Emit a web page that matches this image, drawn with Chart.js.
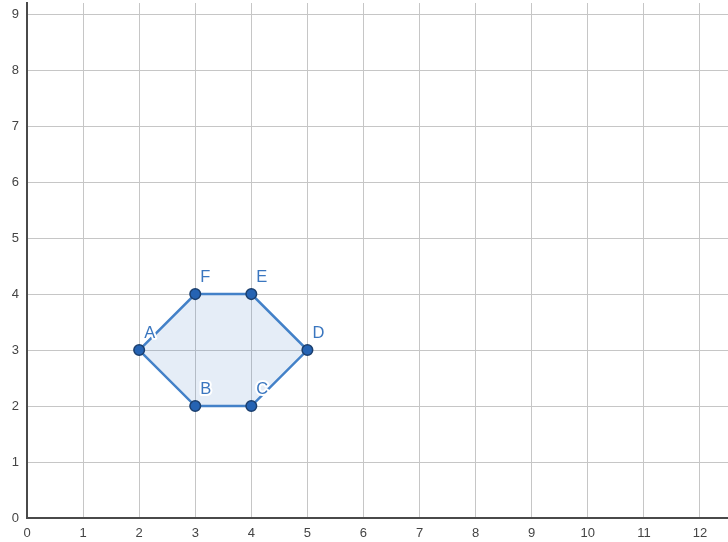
<!DOCTYPE html>
<html><head><meta charset="utf-8">
<script src="https://cdn.jsdelivr.net/npm/chart.js@4/dist/chart.umd.min.js"></script>
<style>html,body{margin:0;padding:0;background:#fff}#wrap{width:728px;height:542px}</style>
</head><body><div id="wrap"><canvas id="c" width="728" height="542"></canvas></div>
<script>
const pointLabels = ['A','B','C','D','E','F'];
const xValues = [2,3,4,5,4,3];
const yValues = [3,2,2,3,4,4];
const xTicks = [0,1,2,3,4,5,6,7,8,9,10,11,12];
const yTicks = [0,1,2,3,4,5,6,7,8,9];

const pts = xValues.map((x,i)=>({x:x,y:yValues[i]}));
const closed = pts.concat([pts[0]]);

const labelPlugin = {
  id:'ptLabels',
  afterDatasetsDraw(chart){
    const ctx = chart.ctx, xs = chart.scales.x, ys = chart.scales.y;
    ctx.save();
    ctx.font = '16.5px "Liberation Sans", Arial, sans-serif';
    ctx.textAlign = 'left'; ctx.textBaseline = 'alphabetic';
    pointLabels.forEach((l,i)=>{
      const px = xs.getPixelForValue(xValues[i]) + 5;
      const py = ys.getPixelForValue(yValues[i]) - 12;
      ctx.lineWidth = 4; ctx.strokeStyle = '#ffffff'; ctx.lineJoin='round';
      ctx.strokeText(l, px, py);
      ctx.fillStyle = '#3a76bf';
      ctx.fillText(l, px, py);
    });
    ctx.restore();
  }
};

const tickFont = {size:13, family:'"Liberation Sans", Arial, sans-serif'};

new Chart(document.getElementById('c'), {
  type:'scatter',
  data:{datasets:[
    {data:closed, showLine:true, fill:'shape', backgroundColor:'rgba(70,130,200,0.14)',
     borderColor:'#4381c8', borderWidth:2.5, pointRadius:0, tension:0, order:2},
    {data:pts, showLine:false, pointRadius:5.3, pointBackgroundColor:'#2563b3',
     pointBorderColor:'#1b3f6e', pointBorderWidth:1.5, order:1}
  ]},
  options:{
    responsive:false, animation:false, devicePixelRatio:1,
    layout:{autoPadding:false, padding:{top:3,right:0,left:0,bottom:0}},
    plugins:{legend:{display:false}, tooltip:{enabled:false}},
    scales:{
      x:{type:'linear', min:0, max:12.5,
        afterBuildTicks(s){ s.ticks = xTicks.map(v=>({value:v})); },
        afterFit(s){ s.height = 24; s.paddingLeft = 0; s.paddingRight = 0; },
        grid:{color:'#c6c6c6', lineWidth:1, drawTicks:false},
        border:{color:'#4a4a4a', width:2},
        ticks:{color:'#444', font:tickFont, padding:8, maxRotation:0, autoSkip:false}
      },
      y:{type:'linear', min:0, max:9.2,
        afterBuildTicks(s){ s.ticks = yTicks.map(v=>({value:v})); },
        afterFit(s){ s.width = 27; s.paddingTop = 0; s.paddingBottom = 0; },
        grid:{color:'#c6c6c6', lineWidth:1, drawTicks:false},
        border:{color:'#4a4a4a', width:2},
        ticks:{color:'#444', font:tickFont, padding:8}
      }
    }
  },
  plugins:[labelPlugin]
});
</script></body></html>
